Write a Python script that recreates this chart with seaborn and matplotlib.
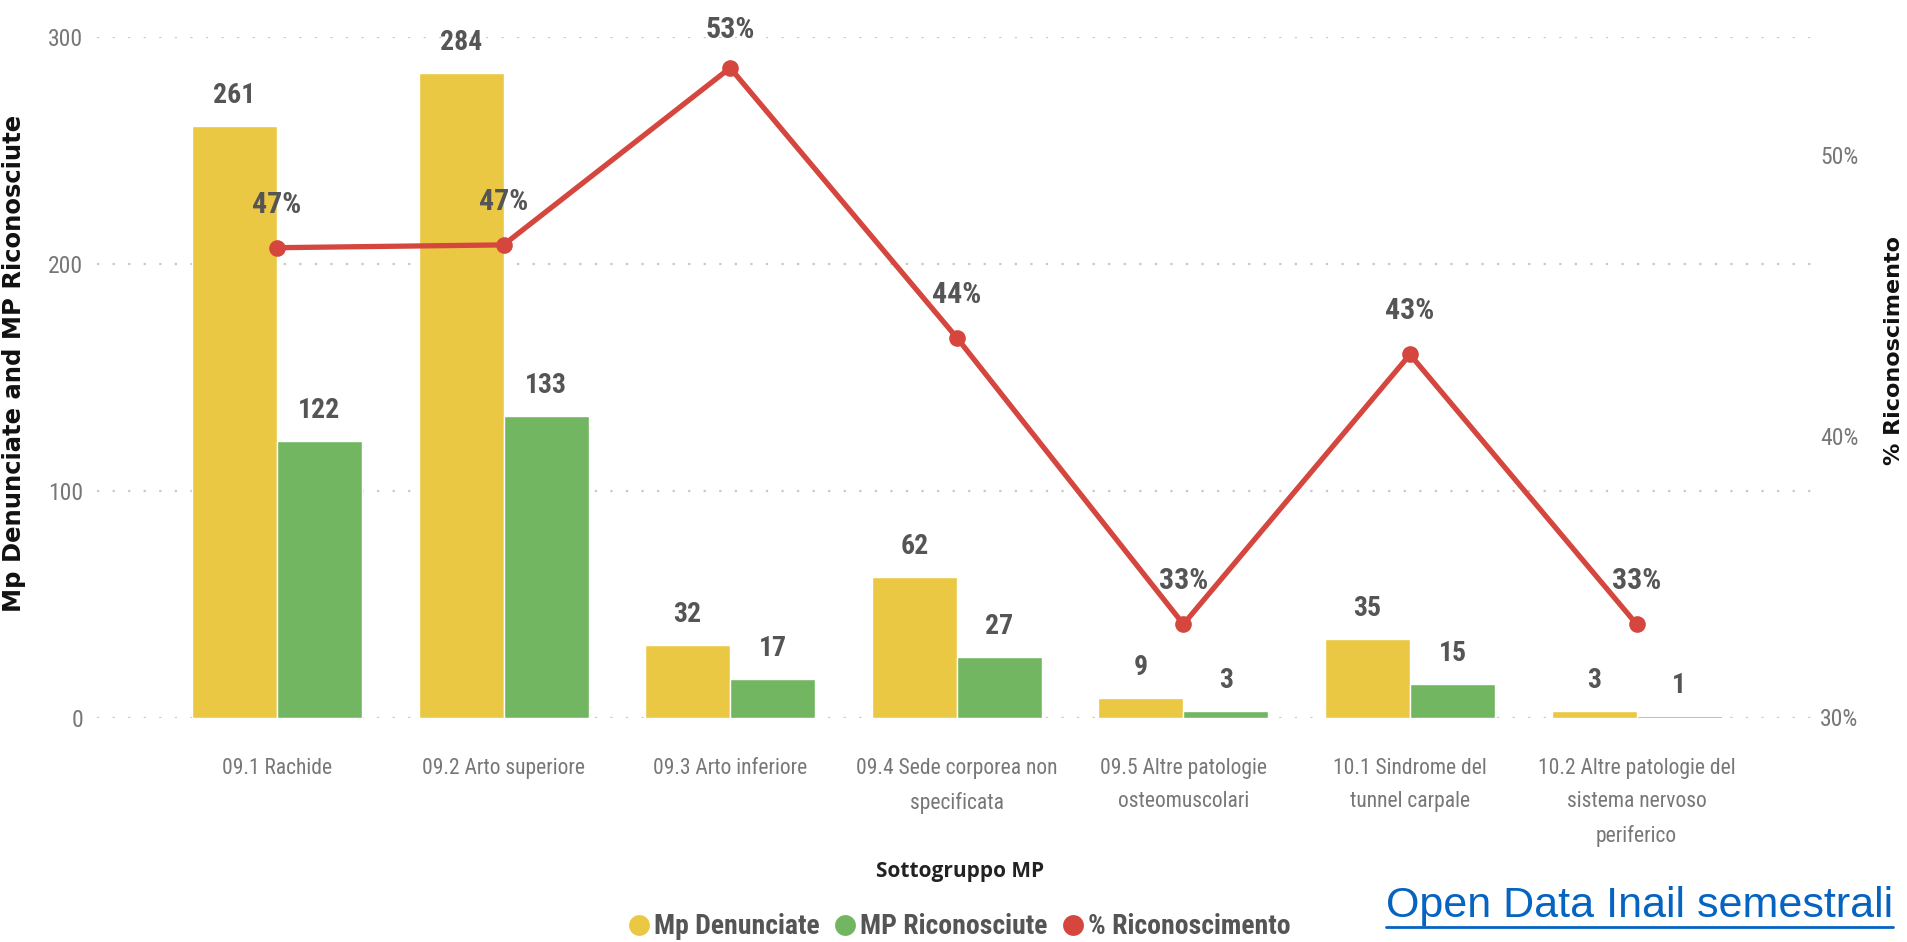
import numpy as np
import pandas as pd
import matplotlib
matplotlib.use("Agg")
import matplotlib.pyplot as plt
from matplotlib import font_manager as fm
from matplotlib.lines import Line2D
import seaborn as sns

# --- data -------------------------------------------------------------
categories = [
    "09.1 Rachide",
    "09.2 Arto superiore",
    "09.3 Arto inferiore",
    "09.4 Sede corporea non\nspecificata",
    "09.5 Altre patologie\nosteomuscolari",
    "10.1 Sindrome del\ntunnel carpale",
    "10.2 Altre patologie del\nsistema nervoso\nperiferico",
]
mp_denunciate = [261, 284, 32, 62, 9, 35, 3]
mp_riconosciute = [122, 133, 17, 27, 3, 15, 1]
pct_riconoscimento = [46.7, 46.8, 53.1, 43.5, 33.3, 42.9, 33.3]

series_names = ["Mp Denunciate", "MP Riconosciute", "% Riconoscimento"]
left_ticks = [0, 100, 200, 300]
right_ticks = [30, 40, 50]

# --- style ------------------------------------------------------------
YELLOW = "#EBC844"
GREEN = "#72B662"
RED = "#D5463F"
LABEL = "#555555"
TICK = "#777777"


def pick_condensed():
    """Return (family, stretch) of an installed condensed sans face."""
    candidates = [("Roboto Condensed", "normal"), ("Liberation Sans Narrow", "normal"),
                  ("Noto Sans", "condensed"), ("DejaVu Sans", "condensed"),
                  ("Open Sans", "condensed"), ("Roboto", "condensed")]
    for fam, stretch in candidates:
        try:
            path = fm.findfont(fm.FontProperties(family=fam, stretch=stretch),
                               fallback_to_default=False)
        except Exception:
            continue
        if any(k in path.lower() for k in ("condensed", "narrow")):
            return fam, stretch
    return "DejaVu Sans", "normal"


COND, STRETCH = pick_condensed()

sns.set_theme(style="white")
plt.rcParams["font.family"] = [COND, "DejaVu Sans"]
plt.rcParams["font.stretch"] = STRETCH

W, H = 1907, 942
fig = plt.figure(figsize=(W / 100, H / 100), dpi=100)
x0, x1, y0, y1 = 97, 1812, 37, 718
ax = fig.add_axes([x0 / W, 1 - y1 / H, (x1 - x0) / W, (y1 - y0) / H])

df = pd.DataFrame({
    "Sottogruppo": categories * 2,
    "Valore": mp_denunciate + mp_riconosciute,
    "Serie": [series_names[0]] * len(categories) + [series_names[1]] * len(categories),
})
sns.barplot(data=df, x="Sottogruppo", y="Valore", hue="Serie",
            palette=[YELLOW, GREEN], width=0.75, gap=0, saturation=1,
            legend=False, ax=ax, zorder=2)

# bar value labels
for container, values in zip(ax.containers, [mp_denunciate, mp_riconosciute]):
    for patch, v in zip(container.patches, values):
        ax.annotate(f"{v}", (patch.get_x() + patch.get_width() / 2, v),
                    xytext=(0, 16.5), textcoords="offset points",
                    ha="center", va="baseline", fontsize=20,
                    fontweight="bold", color=LABEL, annotation_clip=False)

ax.set_ylim(0, 300)
ax.set_yticks(left_ticks)
ax.yaxis.grid(True, color="#C8C8C8", linestyle=(0, (1, 6)), linewidth=1.6)
ax.set_axisbelow(True)
for s in ax.spines.values():
    s.set_visible(False)
ax.tick_params(axis="y", length=0, pad=10, labelsize=17, labelcolor=TICK)
ax.tick_params(axis="x", length=0, pad=29, labelsize=15.5, labelcolor=TICK)
for lbl in ax.get_xticklabels():
    lbl.set_linespacing(1.75)
ax.set_xlabel("")
ax.set_ylabel("Mp Denunciate and MP Riconosciute", family="DejaVu Sans",
              stretch="normal", fontweight="bold", fontsize=17.5, color="#111111")
ax.yaxis.set_label_coords(-0.0414, 0.52)

# percentage line on secondary axis
ax2 = ax.twinx()
xpos = np.arange(len(categories))
sns.lineplot(x=xpos, y=pct_riconoscimento, ax=ax2, color=RED, linewidth=3.8,
             marker="o", markersize=12, markeredgewidth=0, zorder=3)
ax2.set_ylim(29.96, 54.2)
ax2.set_yticks(right_ticks)
ax2.set_yticklabels([f"{t}%" for t in right_ticks])
ax2.tick_params(axis="y", length=0, pad=6, labelsize=17, labelcolor=TICK)
for s in ax2.spines.values():
    s.set_visible(False)
ax2.grid(False)
ax2.set_ylabel("% Riconoscimento", family="DejaVu Sans", stretch="normal",
               fontweight="bold", fontsize=16, color="#111111")
ax2.yaxis.set_label_coords(1.042, 0.54)

ax.set_xlim(-0.794, 6.774)

# percentage labels sit above each point, kept inside the plot area
top_px = ax2.bbox.y1
for xp, p in zip(xpos, pct_riconoscimento):
    py = ax2.transData.transform((xp, p))[1]
    off = min(35.0, top_px - py - 1)
    ax2.annotate(f"{p:.0f}%", (xp, p), xytext=(0, off), textcoords="offset pixels",
                 ha="center", va="baseline", fontsize=21.5, fontweight="bold",
                 color=LABEL, annotation_clip=False)

# axis title and legend
fig.text(960 / W, 1 - 871 / H, "Sottogruppo MP", ha="center", va="center",
         fontsize=15, fontweight="bold", color="#222222", family="Open Sans",
         stretch="normal")

handles = [Line2D([], [], linestyle="none", marker="o", markersize=15,
                  markerfacecolor=c, markeredgewidth=0)
           for c in (YELLOW, GREEN, RED)]
leg = fig.legend(handles, series_names, loc="center", bbox_to_anchor=(958 / W, 1 - 927 / H),
                 ncol=3, frameon=False, handletextpad=0.05, columnspacing=0.4,
                 handlelength=1.0, prop={"size": 20, "weight": "bold",
                                         "family": [COND, "DejaVu Sans"],
                                         "stretch": STRETCH})
for t in leg.get_texts():
    t.set_color(LABEL)

# source link
link = fig.text(1386 / W, 1 - 906 / H, "Open Data Inail semestrali", ha="left",
                va="center", fontsize=31, color="#0563C1", family="Liberation Sans",
                stretch="normal")
fig.canvas.draw()
bb = link.get_window_extent(renderer=fig.canvas.get_renderer())
uy = bb.y0 - 1
fig.add_artist(Line2D([bb.x0 / W, bb.x1 / W], [uy / H, uy / H],
                      color="#0563C1", linewidth=2, transform=fig.transFigure))

fig.savefig("out.png", dpi=100)
